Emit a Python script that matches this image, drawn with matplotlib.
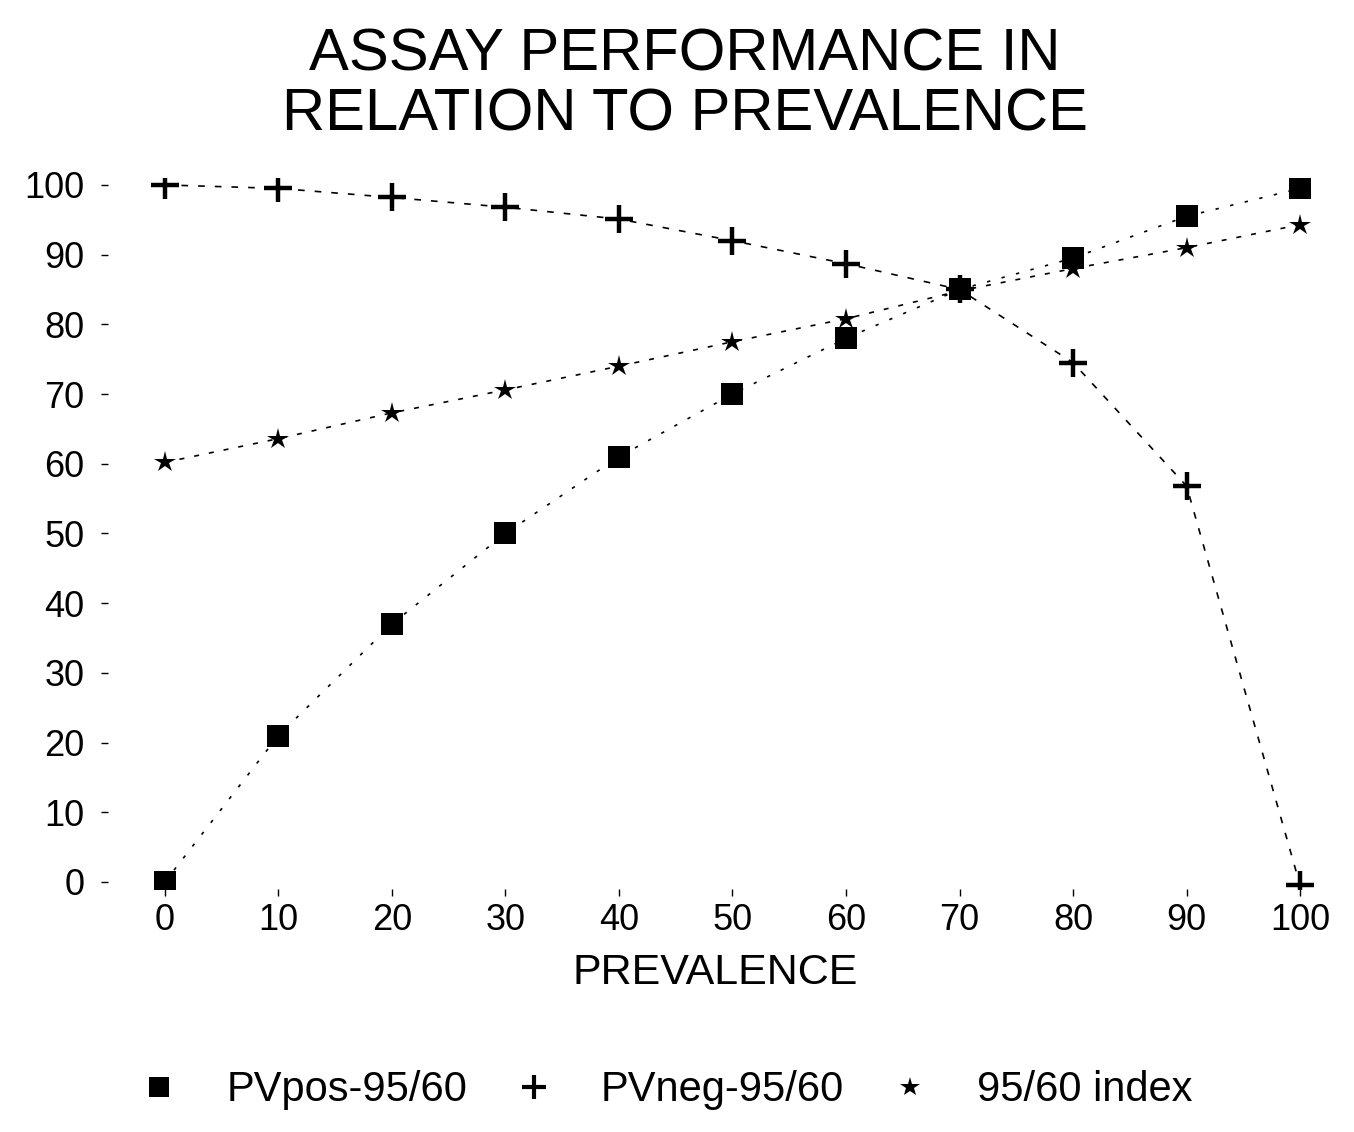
import matplotlib
matplotlib.use("Agg")
import matplotlib.pyplot as plt
from matplotlib.lines import Line2D

plt.rcParams['font.family'] = ['Liberation Sans', 'DejaVu Sans']

# datos
prevalence = [0, 10, 20, 30, 40, 50, 60, 70, 80, 90, 100]
pv_pos = [0, 21, 37, 50, 61, 70, 78, 85, 89.5, 95.5, 99.5]
pv_neg = [100, 99.5, 98.2, 96.8, 95.1, 92, 88.7, 85, 74.5, 56.8, -0.5]
index_9560 = [60.2, 63.6, 67.3, 70.6, 74, 77.5, 80.8, 84.8, 88, 91, 94.3]

series_labels = ['PVpos-95/60', 'PVneg-95/60', '95/60 index']

fig = plt.figure(figsize=(13.54, 11.32), dpi=100)
ax = fig.add_axes([0.0798, 0.2147, 0.8972, 0.6281])

ax.plot(prevalence, pv_pos, color='black', lw=1.2, linestyle=(0, (2, 7)),
        marker='s', markersize=16, markeredgewidth=0)
ax.plot(prevalence, pv_neg, color='black', lw=1.2, linestyle=(0, (4, 6)),
        marker='+', markersize=20, markeredgewidth=3.2)
ax.plot(prevalence, index_9560, color='black', lw=1.2, linestyle=(0, (3, 6)),
        marker='*', markersize=16, markeredgewidth=0)

ax.set_xlim(-5, 102)
ax.set_ylim(-1, 101)
ax.set_xticks(prevalence)
ax.set_yticks(range(0, 101, 10))
for s in ax.spines.values():
    s.set_visible(False)
ax.tick_params(axis='both', labelsize=26, length=5, width=1, direction='out', pad=12)
ax.tick_params(axis='x', pad=5)

ax.set_xlabel('PREVALENCE', fontsize=31, labelpad=11)

fig.text(0.506, 0.925, 'ASSAY PERFORMANCE IN\nRELATION TO PREVALENCE',
         ha='center', va='center', fontsize=43, linespacing=1.12)

# leyenda
handles = [
    Line2D([], [], color='black', linestyle='none', marker='s', markersize=15, markeredgewidth=0),
    Line2D([], [], color='black', linestyle='none', marker='+', markersize=17, markeredgewidth=3),
    Line2D([], [], color='black', linestyle='none', marker='*', markersize=15, markeredgewidth=0),
]
fig.legend(handles, series_labels, loc='center', bbox_to_anchor=(0.49, 0.037),
           ncol=3, frameon=False, fontsize=30, handletextpad=1.0, columnspacing=1.0,
           handlelength=1.2)

fig.savefig('out.png', dpi=100)
